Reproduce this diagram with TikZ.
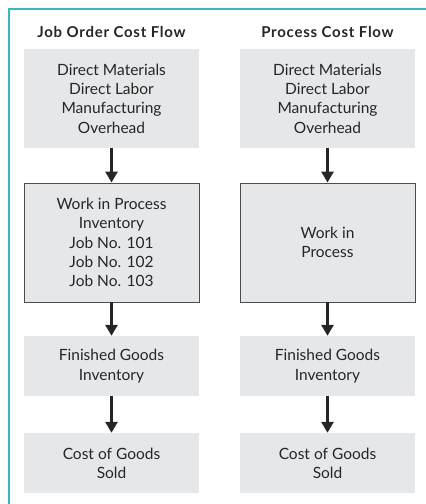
\documentclass[tikz,border=0pt]{standalone}
\usepackage{fontspec}
\setmainfont{Lato}
\newfontfamily\headfont[LetterSpace=5]{Lato}
\usetikzlibrary{arrows.meta}
\definecolor{frameteal}{HTML}{3BB6BF}
\definecolor{boxgray}{HTML}{E6E7E8}
\definecolor{edgegray}{HTML}{4D4D4D}
\begin{document}
\begin{tikzpicture}[x=1pt,y=-1pt,
  costbox/.style={fill=boxgray, draw=none, minimum width=175pt, inner sep=0pt, align=center,
    text=black!85, font=\fontsize{15.5}{19.3}\selectfont},
  wipbox/.style={costbox, draw=edgegray, line width=0.9pt},
  heading/.style={font=\headfont\fontsize{15}{17}\selectfont\bfseries, inner sep=0pt, text=black!85},
  flowarrow/.style={line width=3.5pt, draw=black!85, -{Triangle[width=12pt,length=11pt]}}
]
\useasboundingbox (0,0) rectangle (426,504);
\draw[frameteal, line width=2pt] (9,504) -- (9,9) -- (426,9);

\node[heading] (th1) at (111.5,32) {Job Order Cost Flow};
\node[heading] (th2) at (327.5,32) {Process Cost Flow};

% left column
\node[costbox, minimum height=99pt] (l1) at (111.5,98.5) {Direct Materials\\Direct Labor\\Manufacturing\\Overhead};
\node[wipbox, minimum height=119pt] (l2) at (111.5,242.5) {Work in Process\\Inventory\\Job No. 101\\Job No. 102\\Job No. 103};
\node[costbox, minimum height=60pt] (l3) at (111.5,366) {Finished Goods\\Inventory};
\node[costbox, minimum height=60pt] (l4) at (111.5,463) {Cost of Goods\\Sold};

% right column
\node[costbox, minimum height=99pt] (r1) at (327.5,98.5) {Direct Materials\\Direct Labor\\Manufacturing\\Overhead};
\node[wipbox, minimum height=119pt] (r2) at (327.5,242.5) {Work in\\Process};
\node[costbox, minimum height=60pt] (r3) at (327.5,366) {Finished Goods\\Inventory};
\node[costbox, minimum height=60pt] (r4) at (327.5,463) {Cost of Goods\\Sold};

\draw[flowarrow] (l1.south) -- (l2.north);
\draw[flowarrow] (l2.south) -- (l3.north);
\draw[flowarrow] (l3.south) -- (l4.north);
\draw[flowarrow] (r1.south) -- (r2.north);
\draw[flowarrow] (r2.south) -- (r3.north);
\draw[flowarrow] (r3.south) -- (r4.north);
\end{tikzpicture}
\end{document}
